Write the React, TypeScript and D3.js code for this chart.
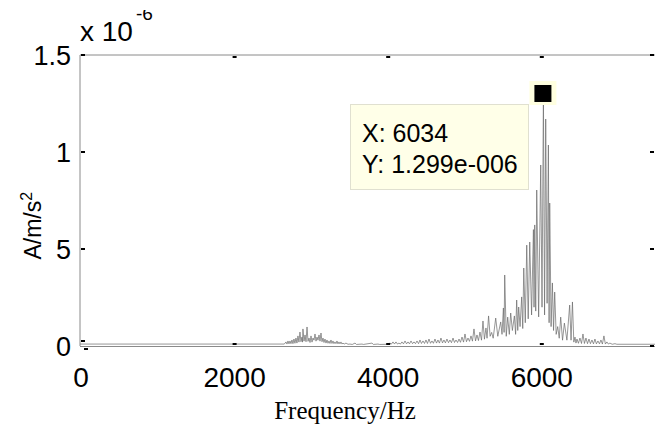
import React from "react";
import * as d3 from "d3";

// Spectrum data: frequency (Hz) and amplitude (x 1e-6 A/m/s^2), peaks and troughs as read
const lowBandHz = [0, 2660, 2682, 2695, 2708, 2721, 2734, 2747, 2760, 2773, 2786, 2799, 2812, 2825, 2838, 2851, 2864, 2877, 2890, 2897, 2903, 2917, 2930, 2943, 2956, 2969, 2982, 2995, 3008, 3021, 3034, 3047, 3060, 3073, 3086, 3099, 3112, 3125, 3138, 3151, 3164, 3177, 3190, 3203, 3216, 3229, 3242, 3255, 3268, 3281, 3294, 3307, 3320, 3333, 3346, 3359, 3372, 3385, 3398, 3411, 3424, 3440, 3463, 3490, 3515, 3545, 3581, 3600, 3672, 3690, 3802, 3820, 3880, 3900];
const lowBandAmp = [0.01, 0.01, 0.021, 0.01, 0.026, 0.011, 0.026, 0.012, 0.031, 0.012, 0.036, 0.014, 0.041, 0.015, 0.052, 0.02, 0.072, 0.022, 0.046, 0.02, 0.088, 0.025, 0.057, 0.022, 0.098, 0.024, 0.041, 0.018, 0.052, 0.02, 0.041, 0.03, 0.062, 0.025, 0.046, 0.03, 0.057, 0.025, 0.067, 0.022, 0.041, 0.018, 0.036, 0.015, 0.031, 0.014, 0.026, 0.013, 0.031, 0.013, 0.026, 0.012, 0.021, 0.012, 0.026, 0.011, 0.021, 0.011, 0.021, 0.01, 0.015, 0.01, 0.015, 0.009, 0.01, 0.008, 0.015, 0.008, 0.01, 0.008, 0.015, 0.008, 0.01, 0.008];

const midBandHz = [4010, 4036, 4055, 4075, 4095, 4114, 4134, 4153, 4172, 4192, 4212, 4232, 4252, 4271, 4290, 4310, 4330, 4349, 4368, 4388, 4408, 4427, 4446, 4466, 4486, 4505, 4524, 4544, 4564, 4583, 4602, 4622, 4642, 4661, 4680, 4700, 4720, 4739, 4758, 4778, 4798, 4817, 4837, 4857, 4876, 4896, 4916, 4935, 4954, 4974, 4994, 5013, 5032, 5052, 5072, 5091, 5110, 5130, 5150, 5169, 5188, 5208, 5228, 5247, 5266, 5286, 5300];
const midBandAmp = [0.009, 0.015, 0.01, 0.021, 0.01, 0.021, 0.01, 0.015, 0.01, 0.021, 0.011, 0.026, 0.011, 0.021, 0.011, 0.026, 0.012, 0.021, 0.012, 0.026, 0.012, 0.031, 0.013, 0.026, 0.013, 0.031, 0.013, 0.036, 0.014, 0.026, 0.014, 0.036, 0.015, 0.031, 0.015, 0.041, 0.016, 0.031, 0.016, 0.036, 0.017, 0.031, 0.017, 0.041, 0.018, 0.031, 0.018, 0.036, 0.019, 0.046, 0.02, 0.062, 0.022, 0.041, 0.024, 0.052, 0.025, 0.088, 0.026, 0.057, 0.028, 0.072, 0.03, 0.129, 0.035, 0.093, 0.04];

const mainBandHz = [5320, 5340, 5360, 5380, 5413, 5440, 5478, 5495, 5513, 5522, 5530, 5550, 5569, 5590, 5608, 5630, 5656, 5672, 5686, 5700, 5712, 5730, 5751, 5765, 5778, 5798, 5817, 5836, 5856, 5880, 5904, 5912, 5921, 5934, 5947, 5972, 5999, 6016, 6034, 6049, 6064, 6082, 6099, 6108, 6116, 6134, 6151, 6166, 6181, 6200, 6220, 6240, 6259, 6283, 6307, 6340, 6376, 6394, 6412, 6430];
const mainBandAmp = [0.155, 0.05, 0.07, 0.04, 0.144, 0.05, 0.124, 0.06, 0.196, 0.07, 0.366, 0.05, 0.149, 0.06, 0.17, 0.08, 0.155, 0.06, 0.237, 0.08, 0.201, 0.1, 0.253, 0.09, 0.402, 0.12, 0.52, 0.14, 0.536, 0.16, 0.6, 0.2, 0.624, 0.18, 0.804, 0.15, 0.933, 0.2, 1.299, 0.16, 1.17, 0.22, 1.036, 0.12, 0.737, 0.1, 0.325, 0.08, 0.278, 0.06, 0.1, 0.04, 0.149, 0.03, 0.118, 0.03, 0.211, 0.03, 0.227, 0.02];

const tailBandHz = [6445, 6458, 6471, 6490, 6510, 6530, 6549, 6568, 6588, 6608, 6627, 6646, 6666, 6686, 6705, 6724, 6744, 6764, 6783, 6802, 6822, 6841, 6861, 6880, 6900, 6930, 6966, 6990, 7500];
const tailBandAmp = [0.046, 0.015, 0.036, 0.014, 0.041, 0.013, 0.062, 0.013, 0.041, 0.012, 0.036, 0.012, 0.031, 0.011, 0.036, 0.011, 0.026, 0.011, 0.031, 0.01, 0.052, 0.01, 0.021, 0.01, 0.015, 0.009, 0.012, 0.009, 0.009];

const xTicks = [0, 2000, 4000, 6000];
const xTickLabels = ["0", "2000", "4000", "6000"];
const yTicks = [0, 0.5, 1, 1.5];
const yTickLabels = ["0", "5", "1", "1.5"];

const peakHz = 6034;
const peakAmp = 1.299;
const tipLines = ["X: 6034", "Y: 1.299e-006"];

export default function App() {
  const W = 655, H = 430;
  const x = d3.scaleLinear().domain([0, 7500]).range([80, 656]);
  const y = d3.scaleLinear().domain([0, 1.5]).range([346, 55]);

  const pts: [number, number][] = [];
  const bands: [number[], number[]][] = [
    [lowBandHz, lowBandAmp],
    [midBandHz, midBandAmp],
    [mainBandHz, mainBandAmp],
    [tailBandHz, tailBandAmp],
  ];
  bands.forEach(([f, a]) => f.forEach((v, i) => pts.push([v, a[i]])));
  const line = d3.line<[number, number]>().x((d) => x(d[0])).y((d) => y(d[1]));

  const sans = "'Liberation Sans', Arial, sans-serif";
  const frame = "#8a8a8a";
  const px = x(peakHz), py = y(peakAmp);

  return (
    <svg width={W} height={H} style={{ position: "absolute", left: 0, top: 0, background: "#fff" }}>
      <defs>
        <clipPath id="expClip">
          <rect x={0} y={10} width={W} height={H} />
        </clipPath>
      </defs>
      <rect x={0} y={0} width={W} height={H} fill="#fff" />
      {/* spectrum */}
      <path d={line(pts) || ""} fill="none" stroke="#6a6a6a" strokeWidth={0.7} />
      {/* frame */}
      <line x1={x(0)} x2={x(0)} y1={y(1.5)} y2={y(0)} stroke={frame} strokeWidth={1} />
      <line x1={x(0)} x2={x(7500)} y1={y(1.5)} y2={y(1.5)} stroke={frame} strokeWidth={1} />
      <line x1={x(0)} x2={x(7500)} y1={y(0) + 0.5} y2={y(0) + 0.5} stroke={frame} strokeWidth={1} />
      <line x1={x(7500)} x2={x(7500)} y1={y(1.5)} y2={y(0)} stroke={frame} strokeWidth={1} />
      {/* y ticks */}
      {yTicks.map((t, i) => (
        <g key={"yt" + i}>
          <rect x={x(0) + 1} y={y(t) + (t === 0 ? -5 : 0) - 1} width={4} height={2} fill="#000" />
          <rect x={x(7500) - 6} y={y(t) - 1} width={4} height={2} fill="#000" />
          <text x={71} y={y(t) + 1} textAnchor="end" dominantBaseline="central" fontFamily={sans} fontSize={27} fill="#000">
            {yTickLabels[i]}
          </text>
        </g>
      ))}
      {/* x ticks */}
      {xTicks.map((t, i) => (
        <g key={"xt" + i}>
          <rect x={x(t) + (t === 0 ? 4 : -1)} y={t === 0 ? y(0) + 2 : y(0) - 3} width={4} height={2} fill="#000" />
          {t > 0 && <rect x={x(t) - 1} y={y(1.5) + 1} width={4} height={2} fill="#000" />}
          <text x={x(t) + 1} y={377} textAnchor="middle" dominantBaseline="central" fontFamily={sans} fontSize={28} fill="#000">
            {xTickLabels[i]}
          </text>
        </g>
      ))}
      {/* exponent */}
      <text x={80} y={41} fontFamily={sans} fontSize={28} fill="#000">x 10</text>
      <g clipPath="url(#expClip)">
        <text x={136} y={20} fontFamily={sans} fontSize={19} fill="#000">-6</text>
      </g>
      {/* y label */}
      <text transform={`translate(41,${y(0.62)}) rotate(-90)`} textAnchor="middle" fontFamily={sans} fontSize={23} fill="#000">
        A/m/s<tspan dy={-9} fontSize={16}>2</tspan>
      </text>
      {/* x label */}
      <text x={345} y={419} textAnchor="middle" fontFamily="'Liberation Serif', 'Times New Roman', serif" fontSize={25} fill="#000">
        Frequency/Hz
      </text>
      {/* datatip */}
      <rect x={350.5} y={104.5} width={178} height={85} fill="#ffffe8" stroke="#e0e0d0" strokeWidth={1} />
      {tipLines.map((s, i) => (
        <text key={"tip" + i} x={362} y={142 + i * 31} fontFamily={sans} fontSize={25} fill="#000">
          {s}
        </text>
      ))}
      <rect x={px - 14} y={py - 13} width={27} height={24} fill="#ffffe0" />
      <rect x={px - 9} y={py - 9} width={17} height={17} fill="#000" />
    </svg>
  );
}
